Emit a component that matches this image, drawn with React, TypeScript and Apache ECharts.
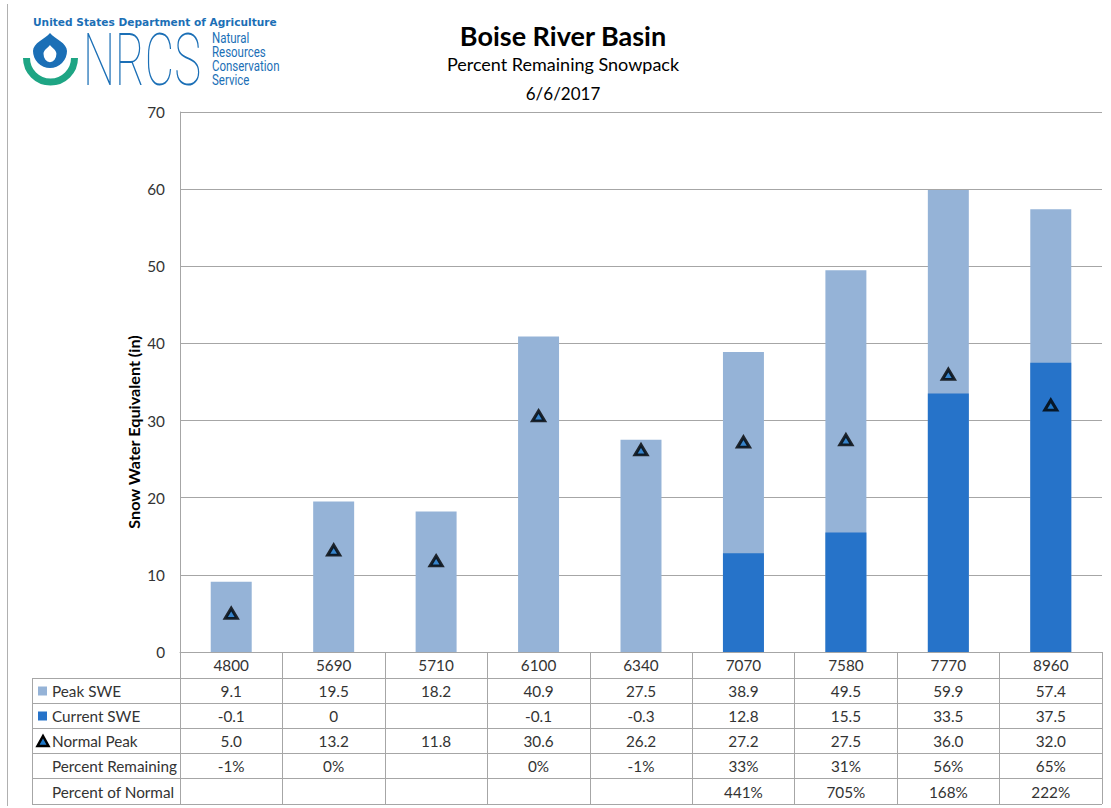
import React, { useEffect, useRef } from "react";
import * as echarts from "echarts";

// Elevation sites (ft) along the x axis
const categories = ["4800", "5690", "5710", "6100", "6340", "7070", "7580", "7770", "8960"];
// Snow water equivalent, inches
const peakSWE = [9.1, 19.5, 18.2, 40.9, 27.5, 38.9, 49.5, 59.9, 57.4];
const currentSWE: (number | null)[] = [-0.1, 0, null, -0.1, -0.3, 12.8, 15.5, 33.5, 37.5];
const normalPeak = [5.0, 13.2, 11.8, 30.6, 26.2, 27.2, 27.5, 36.0, 32.0];
// Percentages
const pctRemaining: (number | null)[] = [-1, 0, null, 0, -1, 33, 31, 56, 65];
const pctOfNormal: (number | null)[] = [null, null, null, null, null, 441, 705, 168, 222];

const Y_MIN = 0;
const Y_MAX = 70;
const Y_STEP = 10;

const PEAK_COLOR = "#95b3d7";
const CURRENT_COLOR = "#2673c9";
const TRI_FILL = "#1f78c8";
const GRID_COLOR = "#a6a6a6";
const TEXT_COLOR = "#333333";
const FONT = "Lato, 'Open Sans', sans-serif";
const TABLE_FONT_SIZE = 15.3;

const GRID_LEFT = 180;
const GRID_TOP = 112;
const GRID_W = 922;
const GRID_H = 540;
const TABLE_LEFT = 32;
const ROW_LINES = [678, 703, 728, 753, 778, 804];

const LOGO_BLUE = "#1b6fb6";
const LOGO_GREEN = "#1ea584";

echarts.graphic.registerShape(
  "drop",
  echarts.graphic.extendPath("M17 0 C12 6 0 10 0 18 A17 17 0 0 0 34 18 C34 10 22 6 17 0 Z", {})
);

const fmt1 = (v: number | null) => (v === null ? "" : v === 0 ? "0" : v.toFixed(1));
const fmtPct = (v: number | null) => (v === null ? "" : `${v}%`);

const tableRows = [
  { label: "Peak SWE", icon: "peak", cells: peakSWE.map(fmt1) },
  { label: "Current SWE", icon: "current", cells: currentSWE.map(fmt1) },
  { label: "Normal Peak", icon: "tri", cells: normalPeak.map((v) => v.toFixed(1)) },
  { label: "Percent Remaining", icon: "", cells: pctRemaining.map(fmtPct) },
  { label: "Percent of Normal", icon: "", cells: pctOfNormal.map(fmtPct) },
];

function txt(x: number, y: number, text: string, opts: any = {}) {
  return {
    type: "text",
    x,
    y,
    silent: true,
    scaleX: opts.scaleX ?? 1,
    scaleY: opts.scaleY ?? 1,
    rotation: opts.rotation ?? 0,
    style: {
      text,
      fill: opts.fill ?? TEXT_COLOR,
      fontSize: opts.fontSize ?? TABLE_FONT_SIZE,
      fontFamily: opts.fontFamily ?? FONT,
      fontWeight: opts.fontWeight ?? "normal",
      textAlign: opts.align ?? "center",
      textVerticalAlign: "middle",
      verticalAlign: "middle",
    },
  };
}

function hLine(x1: number, x2: number, y: number) {
  return {
    type: "line",
    silent: true,
    shape: { x1, y1: y, x2, y2: y },
    style: { stroke: GRID_COLOR, lineWidth: 1 },
  };
}

export default function App() {
  const ref = useRef<HTMLDivElement>(null);

  useEffect(() => {
    document.body.style.margin = "0";
    if (!ref.current) return;
    const chart = echarts.init(ref.current, undefined, { renderer: "svg" });

    chart.setOption({
      animation: false,
      backgroundColor: "#ffffff",
      grid: { left: GRID_LEFT, top: GRID_TOP, width: GRID_W, height: GRID_H, containLabel: false },
      xAxis: {
        type: "category",
        data: categories,
        boundaryGap: true,
        axisLine: { show: true, lineStyle: { color: GRID_COLOR, width: 1 } },
        axisTick: {
          show: true,
          interval: 0,
          inside: false,
          length: 152,
          lineStyle: { color: GRID_COLOR, width: 1 },
        },
        axisLabel: { interval: 0, margin: 5, color: TEXT_COLOR, fontSize: TABLE_FONT_SIZE, fontFamily: FONT },
      },
      yAxis: {
        type: "value",
        min: Y_MIN,
        max: Y_MAX,
        interval: Y_STEP,
        axisLine: { show: true, lineStyle: { color: GRID_COLOR, width: 1 } },
        axisTick: { show: false },
        axisLabel: { margin: 15, color: TEXT_COLOR, fontSize: TABLE_FONT_SIZE, fontFamily: FONT },
        splitLine: { show: true, lineStyle: { color: GRID_COLOR, width: 1 } },
      },
      series: [
        {
          name: "Peak SWE",
          type: "bar",
          data: peakSWE,
          barWidth: "40%",
          barGap: "-100%",
          itemStyle: { color: PEAK_COLOR },
          z: 2,
        },
        {
          name: "Current SWE",
          type: "bar",
          data: currentSWE,
          barWidth: "40%",
          barGap: "-100%",
          itemStyle: { color: CURRENT_COLOR },
          z: 3,
        },
        {
          name: "Normal Peak",
          type: "scatter",
          data: normalPeak,
          symbol: "triangle",
          symbolSize: [12, 10],
          itemStyle: { color: TRI_FILL, borderColor: "#000000", borderWidth: 3 },
          z: 5,
        },
      ],
    });

    const colX = categories.map((c) => chart.convertToPixel({ xAxisIndex: 0 }, c) as number);

    const elements: any[] = [];

    // left frame line
    elements.push({
      type: "line",
      silent: true,
      shape: { x1: 7.5, y1: 4, x2: 7.5, y2: 806 },
      style: { stroke: "#b0b0b0", lineWidth: 1 },
    });

    // data table grid
    ROW_LINES.forEach((y) => elements.push(hLine(TABLE_LEFT, GRID_LEFT + GRID_W, y + 0.5)));
    elements.push({
      type: "line",
      silent: true,
      shape: { x1: TABLE_LEFT + 0.5, y1: ROW_LINES[0], x2: TABLE_LEFT + 0.5, y2: ROW_LINES[ROW_LINES.length - 1] },
      style: { stroke: GRID_COLOR, lineWidth: 1 },
    });

    tableRows.forEach((row, r) => {
      const yc = (ROW_LINES[r] + ROW_LINES[r + 1]) / 2 + 0.5;
      elements.push(txt(52, yc, row.label, { align: "left" }));
      if (row.icon === "peak" || row.icon === "current") {
        elements.push({
          type: "rect",
          silent: true,
          shape: { x: 38, y: yc - 4.5, width: 9, height: 9 },
          style: { fill: row.icon === "peak" ? PEAK_COLOR : CURRENT_COLOR },
        });
      } else if (row.icon === "tri") {
        elements.push({
          type: "polygon",
          silent: true,
          shape: { points: [[43, yc - 5], [48.5, yc + 5], [37.5, yc + 5]] },
          style: { fill: TRI_FILL, stroke: "#000000", lineWidth: 2.5, lineJoin: "miter" },
        });
      }
      row.cells.forEach((cell, i) => {
        if (cell) elements.push(txt(colX[i], yc, cell));
      });
    });

    // titles
    elements.push(txt(563, 35, "Boise River Basin", { fontSize: 27, fontWeight: "bold", fill: "#000000" }));
    elements.push(txt(563, 64, "Percent Remaining Snowpack", { fontSize: 18, fill: "#000000" }));
    elements.push(txt(563, 93, "6/6/2017", { fontSize: 17, fill: "#000000" }));

    // y axis title
    elements.push(
      txt(134, 432, "Snow Water Equivalent (in)", {
        fontSize: 15,
        fontWeight: "bold",
        fill: "#000000",
        rotation: Math.PI / 2,
        scaleX: 1.08,
      })
    );

    // agency logo
    elements.push(
      txt(33, 22, "United States Department of Agriculture", {
        align: "left",
        fontSize: 10.5,
        fontWeight: "bold",
        fontFamily: "'DejaVu Sans', sans-serif",
        fill: LOGO_BLUE,
        scaleX: 1.01,
      })
    );
    elements.push({
      type: "arc",
      silent: true,
      shape: { cx: 50.5, cy: 58, r: 24, startAngle: 0, endAngle: Math.PI, clockwise: true },
      style: { stroke: LOGO_GREEN, lineWidth: 7, fill: "none" },
    });
    elements.push({ type: "drop", silent: true, x: 33, y: 33, style: { fill: LOGO_BLUE } });
    elements.push({
      type: "drop",
      silent: true,
      x: 43.5,
      y: 45,
      scaleX: 0.38,
      scaleY: 0.49,
      style: { fill: "#ffffff" },
    });
    elements.push(
      txt(83, 60, "NRCS", {
        align: "left",
        fontSize: 72,
        fontWeight: 100,
        fontFamily: "Roboto, sans-serif",
        fill: LOGO_BLUE,
        scaleX: 0.63,
      })
    );
    ["Natural", "Resources", "Conservation", "Service"].forEach((w, i) =>
      elements.push(
        txt(212, 38 + i * 14, w, {
          align: "left",
          fontSize: 14,
          fontFamily: "Roboto, sans-serif",
          fill: LOGO_BLUE,
          scaleX: 0.82,
        })
      )
    );

    chart.setOption({ graphic: { elements } });

    return () => chart.dispose();
  }, []);

  return <div ref={ref} style={{ width: 1111, height: 808 }} />;
}
